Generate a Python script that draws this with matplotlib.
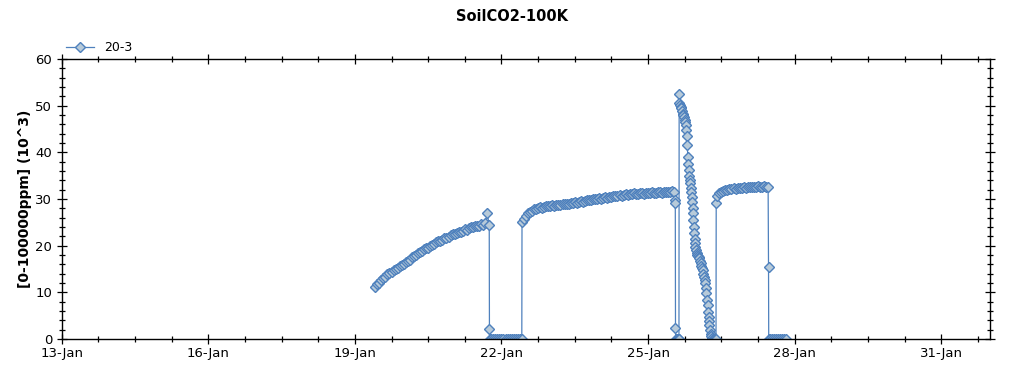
import matplotlib
matplotlib.use("Agg")
import matplotlib.pyplot as plt
import matplotlib.dates as mdates
from matplotlib.ticker import FixedLocator, MultipleLocator
import numpy as np
import datetime as dt

# logger start, hours are counted from here
t0 = dt.datetime(2015, 1, 13)

# first run (hours, value in 10^3 ppm)
seg1_h = [154, 155, 156, 157, 158, 159, 160, 161, 162, 163, 164, 165, 166, 167,
          168, 169, 170, 171, 172, 173, 174, 175, 176, 177, 178, 179, 180, 181,
          182, 183, 184, 185, 186, 187, 188, 189, 190, 191, 192, 193, 194, 195,
          196, 197, 198, 199, 200, 201, 202, 203, 204, 205, 206, 207, 208, 209,
          210, 210.1, 210.2]
seg1_v = [11.2, 11.8, 12.1, 12.7, 13.0, 13.3, 13.9, 14.1, 14.3, 14.8, 15.0, 15.2,
          15.7, 15.9, 16.1, 16.6, 16.8, 17.0, 17.5, 17.7, 17.9, 18.4, 18.6, 18.9,
          19.3, 19.4, 19.6, 20.0, 20.2, 20.3, 20.7, 21.0, 21.1, 21.2, 21.6, 21.7,
          21.8, 22.2, 22.4, 22.5, 22.7, 23.0, 22.9, 23.2, 23.5, 23.4, 23.7, 23.9,
          23.9, 24.2, 24.2, 24.3, 24.6, 24.5, 24.8, 26.9, 24.4, 2.2, 0.0]

# flat zero stretch
gap1_h = [211, 212, 213, 214, 215, 216, 217, 218, 219, 220, 221, 222, 223, 224,
          225, 226]
gap1_v = [0, 0, 0, 0, 0, 0, 0, 0, 0, 0, 0, 0, 0, 0, 0, 0]

# second run up to the spike
seg2_h = [226.1, 227, 228, 229, 230, 231, 232, 233, 234, 235, 236, 237, 238, 239,
          240, 241, 242, 243, 244, 245, 246, 247, 248, 249, 250, 251, 252, 253,
          254, 255, 256, 257, 258, 259, 260, 261, 262, 263, 264, 265, 266, 267,
          268, 269, 270, 271, 272, 273, 274, 275, 276, 277, 278, 279, 280, 281,
          282, 283, 284, 285, 286, 287, 288, 289, 290, 291, 292, 293, 294, 295,
          296, 297, 298, 299, 300, 301, 301.3, 301.4, 301.5, 301.6, 302, 302.5,
          303, 303.2]
seg2_v = [25.1, 25.8, 26.4, 26.9, 27.3, 27.5, 27.8, 27.9, 28.0, 28.2, 28.1, 28.3,
          28.5, 28.4, 28.5, 28.7, 28.6, 28.7, 28.8, 28.7, 28.9, 28.9, 29.0, 28.9,
          29.1, 29.1, 29.3, 29.2, 29.3, 29.5, 29.4, 29.6, 29.8, 29.7, 29.8, 30.0,
          29.9, 30.1, 30.2, 30.1, 30.3, 30.4, 30.3, 30.5, 30.4, 30.6, 30.7, 30.6,
          30.8, 30.7, 30.9, 31.0, 30.9, 31.0, 31.1, 31.2, 31.0, 31.1, 31.2, 31.3,
          31.1, 31.2, 31.3, 31.2, 31.4, 31.3, 31.2, 31.4, 31.5, 31.3, 31.4, 31.6,
          31.4, 31.5, 31.7, 31.6, 29.8, 29.1, 2.3, 0.0, 0.0, 0.0, 0.0, 0.0]

# spike and decay
seg3_h = [303.3, 303.4, 303.7, 304.0, 304.3, 304.7, 305.0, 305.3, 305.7, 306.0,
          306.3, 306.6, 306.9, 307.1, 307.3, 307.5, 307.7, 307.9, 308.2, 308.4,
          308.6, 308.9, 309.2, 309.5, 309.7, 309.9, 310.1, 310.3, 310.5, 310.7,
          310.9, 311.1, 311.3, 311.6, 311.9, 312.2, 312.6, 312.9, 313.2, 313.5,
          313.8, 314.1, 314.5, 314.9, 315.2, 315.5, 315.8, 316.1, 316.4, 316.7,
          317.0, 317.3, 317.6, 317.8, 318.0, 318.2, 318.5, 318.8, 319.1, 319.4,
          319.8, 320.3, 320.8, 321.4]
seg3_v = [52.4, 50.5, 50.2, 49.8, 49.4, 48.8, 48.3, 48.0, 47.6, 47.0, 46.4, 45.8,
          44.8, 43.5, 41.5, 39.0, 37.5, 36.2, 35.0, 34.0, 33.4, 32.3, 31.4, 30.5,
          29.3, 28.0, 26.9, 25.5, 24.0, 22.8, 21.5, 20.5, 19.8, 19.0, 18.4, 18.0,
          17.8, 17.6, 17.3, 16.8, 16.2, 15.7, 15.2, 14.8, 14.0, 13.3, 12.6, 11.9,
          10.9, 9.8, 8.4, 7.2, 5.8, 4.8, 3.8, 2.9, 1.9, 1.1, 0.6, 0.3, 0.0, 0.0,
          0.0, 0.0]

# third run, then back to zero
seg4_h = [321.5, 322, 323, 324, 325, 326, 327, 328, 329, 330, 331, 332, 333, 334,
          335, 336, 337, 338, 339, 340, 341, 342, 343, 344, 345, 346, 347, 347.2,
          347.3, 348, 349, 350, 351, 352, 353, 354, 355, 356]
seg4_v = [29.1, 30.6, 31.2, 31.5, 31.7, 31.9, 32.0, 32.1, 32.2, 32.3, 32.2, 32.4,
          32.3, 32.4, 32.5, 32.4, 32.5, 32.6, 32.6, 32.5, 32.6, 32.7, 32.6, 32.6,
          32.7, 32.5, 32.6, 15.5, 0.0, 0, 0, 0, 0, 0, 0, 0, 0, 0]

hours = seg1_h + gap1_h + seg2_h + seg3_h + seg4_h
values = seg1_v + gap1_v + seg2_v + seg3_v + seg4_v
times = [t0 + dt.timedelta(hours=h) for h in hours]

line_c = "#4f81bd"
face_c = "#b7cad9"

fig = plt.figure(figsize=(10.24, 3.75), dpi=100)
ax = fig.add_axes([0.0603, 0.096, 0.9065, 0.7467])

ax.plot(times, values, color=line_c, lw=0.9, marker="D", markersize=5.5,
        markerfacecolor=face_c, markeredgecolor=line_c, markeredgewidth=1.0,
        label="20-3")

xmin = mdates.date2num(t0)
xmax = mdates.date2num(dt.datetime(2015, 2, 1))
ax.set_xlim(xmin, xmax)
ax.set_ylim(0, 60)

ax.xaxis.set_major_locator(mdates.DayLocator(bymonthday=[13, 16, 19, 22, 25, 28, 31]))
ax.xaxis.set_major_formatter(mdates.DateFormatter("%d-%b"))
ax.xaxis.set_minor_locator(FixedLocator(np.arange(xmin, xmax, 0.75)))
ax.yaxis.set_major_locator(MultipleLocator(10))
ax.yaxis.set_minor_locator(MultipleLocator(2))

for s in ax.spines.values():
    s.set_linewidth(1.0)
ax.tick_params(which="both", top=True, right=True, labelsize=9.5, width=0.9)
ax.tick_params(which="major", length=7, direction="inout")
ax.tick_params(which="minor", length=4, direction="inout")
ax.tick_params(axis="x", which="major", pad=2)

ax.set_ylabel("[0-100000ppm] (10^3)", fontsize=10, fontweight="bold", labelpad=2)
fig.suptitle("SoilCO2-100K", fontsize=10.5, fontweight="bold", y=0.975)
ax.legend(loc="lower left", bbox_to_anchor=(-0.002, 0.995), frameon=False,
          fontsize=9, handlelength=2.2, handletextpad=0.8, borderaxespad=0.1)

fig.savefig("out.png", dpi=100)
